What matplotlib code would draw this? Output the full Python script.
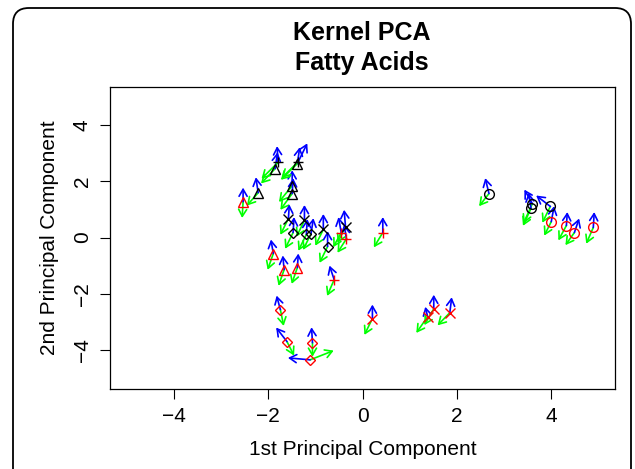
import numpy as np
import matplotlib; matplotlib.use("Agg")
import matplotlib.pyplot as plt
from matplotlib.patches import FancyArrowPatch, FancyBboxPatch

plt.rcParams.update({"font.family": "sans-serif", "font.sans-serif": ["Liberation Sans", "DejaVu Sans"]})

# ---- scores (1st / 2nd kernel PC) + marker/colour per sample ----
pc1 = [-2.53, -2.21, -1.85, -1.49, -1.49, -1.38, -1.89, -1.66, -1.38,
       -1.79, -1.36,
       -1.57, -1.23, -0.83, -0.36,
       -1.47, -1.19, -1.09, -0.74,
       -0.45, -0.34, 0.43, -0.60,
       -1.74, -1.60, -1.06, -1.11,
       0.21, 1.38, 1.51, 1.85,
       2.68, 3.60, 3.57, 3.98,
       4.00, 4.32, 4.49, 4.89]
pc2 = [1.28, 1.60, 2.46, 1.85, 1.57, 2.64, -0.57, -1.14, -1.07,
       2.68, 2.71,
       0.68, 0.61, 0.29, 0.39,
       0.18, 0.11, 0.14, -0.32,
       0.18, -0.04, 0.18, -1.50,
       -2.57, -3.71, -3.75, -4.36,
       -2.89, -2.82, -2.54, -2.68,
       1.57, 1.21, 1.04, 1.11,
       0.57, 0.43, 0.18, 0.36]
shape = ["^", "^", "^", "^", "^", "^", "^", "^", "^",
         "+", "+",
         "x", "x", "x", "x",
         "D", "D", "D", "D",
         "+", "+", "+", "+",
         "D", "D", "D", "D",
         "x", "x", "x", "x",
         "o", "o", "o", "o",
         "o", "o", "o", "o"]
col = ["red", "black", "black", "black", "black", "black", "red", "red", "red",
       "black", "black",
       "black", "black", "black", "black",
       "black", "black", "black", "black",
       "red", "red", "red", "red",
       "red", "red", "red", "red",
       "red", "red", "red", "red",
       "black", "black", "black", "black",
       "red", "red", "red", "red"]

# ---- blue / green direction vectors at each sample ----
blue_dx = [0.00, -0.05, 0.05, 0.00, 0.02, 0.05, -0.05, -0.03, 0.02,
           -0.02, 0.19,
           0.02, 0.00, 0.00, -0.03,
           0.02, 0.02, 0.05, 0.00,
           -0.06, -0.05, 0.00, -0.10,
           -0.08, -0.23, -0.02, -0.47,
           0.00, -0.05, 0.00, 0.04,
           -0.08, -0.17, -0.05, -0.30,
           0.06, 0.02, 0.10, 0.02]
blue_dy = [0.50, 0.55, 0.58, 0.55, 0.55, 0.58, 0.50, 0.50, 0.50,
           0.58, 0.65,
           0.50, 0.55, 0.55, 0.60,
           0.55, 0.55, 0.55, 0.55,
           0.55, 0.50, 0.55, 0.50,
           0.50, 0.50, 0.55, 0.07,
           0.50, 0.35, 0.50, 0.55,
           0.55, 0.50, 0.55, 0.39,
           0.55, 0.48, 0.50, 0.55]
green_dx = [-0.02, -0.24, -0.30, -0.28, -0.25, -0.35, -0.12, -0.12, -0.12,
            -0.35, -0.35,
            -0.17, -0.17, -0.17, -0.17,
            -0.17, -0.17, -0.17, -0.17,
            -0.17, -0.19, -0.19, -0.15,
            0.07, 0.15, 0.00, 0.50,
            -0.17, -0.24, -0.20, -0.26,
            -0.21, -0.19, -0.17, -0.17,
            -0.15, -0.17, -0.19, -0.15]
green_dy = [-0.58, -0.46, -0.53, -0.58, -0.58, -0.58, -0.58, -0.58, -0.58,
            -0.58, -0.58,
            -0.58, -0.58, -0.58, -0.58,
            -0.58, -0.58, -0.58, -0.58,
            -0.52, -0.50, -0.53, -0.58,
            -0.58, -0.50, -0.50, 0.33,
            -0.58, -0.58, -0.58, -0.45,
            -0.45, -0.70, -0.62, -0.58,
            -0.50, -0.53, -0.45, -0.58]

fig = plt.figure(figsize=(6.35, 4.69), dpi=100)
ax = fig.add_axes([110 / 635, 1 - 389 / 469, 505 / 635, 302 / 469])

def arrow(x, y, dx, dy, c):
    ax.add_patch(FancyArrowPatch((x, y), (x + dx, y + dy), arrowstyle="->,head_length=5,head_width=2.9",
                                 mutation_scale=1, color=c, lw=1.2, shrinkA=0, shrinkB=0))

for i in range(len(pc1)):
    arrow(pc1[i], pc2[i], green_dx[i], green_dy[i], "#00FF00")
    arrow(pc1[i], pc2[i], blue_dx[i], blue_dy[i], "#0000FF")
    ax.plot(pc1[i], pc2[i], marker=shape[i], color=col[i], mfc="none", ms=7 if shape[i] != "D" else 5.5,
            mew=1.0, ls="none")

ax.set_xlim(-5.35, 5.35); ax.set_ylim(-5.4, 5.37)
ax.set_xticks([-4, -2, 0, 2, 4]); ax.set_yticks([-4, -2, 0, 2, 4])
ax.tick_params(direction="out", length=7, width=0.8, labelsize=15, pad=6)
for lab in ax.get_yticklabels():
    lab.set_rotation(90); lab.set_va("center")
for s in ax.spines.values(): s.set_linewidth(0.9)
ax.set_xlabel("1st Principal Component", fontsize=15, labelpad=10)
ax.set_ylabel("2nd Principal Component", fontsize=15, labelpad=10)
fig.text(362 / 635, 1 - 33 / 469, "Kernel PCA", ha="center", va="center", fontsize=18, fontweight="bold")
fig.text(362 / 635, 1 - 63 / 469, "Fatty Acids", ha="center", va="center", fontsize=18, fontweight="bold")

frame = FancyBboxPatch((13 / 635, -0.1), 618 / 635, 1.1 - 8 / 469,
                       boxstyle="round,pad=0,rounding_size=0.025", mutation_aspect=635 / 469,
                       transform=fig.transFigure, fill=False, lw=1.3, ec="black", clip_on=False)
fig.patches.append(frame)

fig.savefig("out.png", dpi=100)
